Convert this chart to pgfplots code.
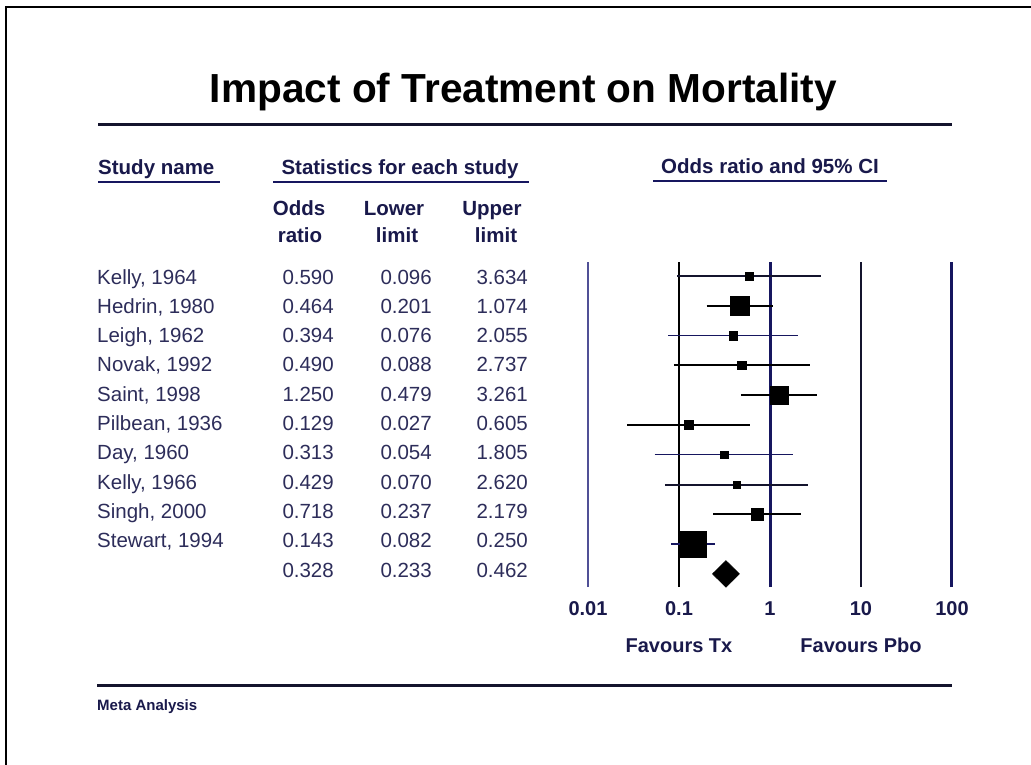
\documentclass[border=0pt]{standalone}
\usepackage{pgfplots}
\pgfplotsset{compat=1.18}
\usepackage{fontspec}
\setmainfont{Liberation Sans}
\definecolor{navy}{RGB}{22,22,95}
\definecolor{hdr}{RGB}{25,25,75}
\definecolor{txt}{RGB}{45,45,90}
\definecolor{lnavy}{RGB}{80,80,150}
\definecolor{rule}{RGB}{20,20,45}

\begin{document}
\begin{tikzpicture}[x=1pt,y=-1pt]
\useasboundingbox (0,0) rectangle (1031,765);
\fill[white] (0,0) rectangle (1031,765);
\draw[line width=2pt, black] (6,766) -- (6,7) -- (1032,7);

% title
\node[anchor=base, inner sep=0pt, font=\fontsize{40.6}{48}\selectfont\bfseries] at (523.5,103) {Impact of Treatment on Mortality};
\draw[line width=3pt, rule] (98,125) -- (952,125);

% headers
\begin{scope}[every node/.style={inner sep=0pt, text=hdr, font=\fontsize{20.5}{24}\selectfont\bfseries}]
\node[anchor=base west] at (98,175) {Study name};
\node[anchor=base] at (400,175) {Statistics for each study};
\node[anchor=base] at (770,174) {Odds ratio and 95\% CI};
\node[anchor=base] at (299,215) {Odds};
\node[anchor=base] at (300,242) {ratio};
\node[anchor=base] at (394,215) {Lower};
\node[anchor=base] at (397,242) {limit};
\node[anchor=base] at (492,215) {Upper};
\node[anchor=base] at (496,242) {limit};
\end{scope}
\draw[line width=2pt, navy] (98,182) -- (220,182);
\draw[line width=2pt, navy] (273,182) -- (529,182);
\draw[line width=2pt, navy] (653,181) -- (887,181);

% study rows (text)
\begin{scope}[every node/.style={inner sep=0pt, text=txt, font=\fontsize{20.5}{24}\selectfont}]
\foreach \n/\o/\l/\u [count=\i] in {
  {Kelly, 1964}/0.590/0.096/3.634,
  {Hedrin, 1980}/0.464/0.201/1.074,
  {Leigh, 1962}/0.394/0.076/2.055,
  {Novak, 1992}/0.490/0.088/2.737,
  {Saint, 1998}/1.250/0.479/3.261,
  {Pilbean, 1936}/0.129/0.027/0.605,
  {Day, 1960}/0.313/0.054/1.805,
  {Kelly, 1966}/0.429/0.070/2.620,
  {Singh, 2000}/0.718/0.237/2.179,
  {Stewart, 1994}/0.143/0.082/0.250,
  {}/0.328/0.233/0.462}
{
  \pgfmathsetmacro{\yy}{284+29.3*(\i-1)}
  \node[anchor=base west] at (97,\yy) {\n};
  \node[anchor=base east] at (334,\yy) {\o};
  \node[anchor=base east] at (432,\yy) {\l};
  \node[anchor=base east] at (528,\yy) {\u};
}
\end{scope}

% footer
\draw[line width=3pt, rule] (97,685) -- (952,685);
\node[anchor=base west, inner sep=0pt, text=hdr, font=\fontsize{15}{18}\selectfont\bfseries] at (97,710) {Meta Analysis};

% forest plot
\begin{axis}[
  at={(588pt,-587pt)}, anchor=south west,
  scale only axis, width=364pt, height=325pt,
  xmode=log, xmin=0.01, xmax=100, ymin=0.56, ymax=11.47,
  axis line style={draw=none},
  xtick={0.01,0.1,1,10,100},
  xticklabels={0.01,0.1,1,10,100},
  xminorticks=false, yminorticks=false,
  minor xtick={}, 
  major tick length=0pt, minor tick length=0pt,
  tick style={draw=none},
  ytick=\empty,
  xticklabel style={anchor=base, inner sep=0pt, yshift=-28pt, text=hdr, font=\fontsize{20}{24}\selectfont\bfseries},
  clip=false,
]
% reference lines
\addplot[lnavy, line width=1.3pt] coordinates {(0.01,0.56) (0.01,11.47)};
\addplot[black, line width=2pt] coordinates {(0.1,0.56) (0.1,11.47)};
\addplot[navy, line width=3pt] coordinates {(1,0.56) (1,11.47)};
\addplot[rule, line width=2.5pt] coordinates {(10,0.56) (10,11.47)};
\addplot[navy, line width=3pt] coordinates {(100,0.56) (100,11.47)};

% confidence intervals
\addplot[rule, line width=2pt] coordinates {(0.096,11) (3.634,11)};
\addplot[black, line width=2pt] coordinates {(0.201,10) (1.074,10)};
\addplot[navy, line width=1.4pt] coordinates {(0.076,9) (2.055,9)};
\addplot[black, line width=2pt] coordinates {(0.088,8) (2.737,8)};
\addplot[black, line width=2pt] coordinates {(0.479,7) (3.261,7)};
\addplot[black, line width=2pt] coordinates {(0.027,6) (0.605,6)};
\addplot[navy, line width=1.4pt] coordinates {(0.054,5) (1.805,5)};
\addplot[rule, line width=2pt] coordinates {(0.070,4) (2.620,4)};
\addplot[black, line width=2pt] coordinates {(0.237,3) (2.179,3)};
\addplot[navy, line width=1.4pt] coordinates {(0.082,2) (0.250,2)};

% point estimates (square size ~ weight)
\addplot[only marks, mark=square*, mark size=3.7pt, black] coordinates {(0.590,11)};
\addplot[only marks, mark=square*, mark size=9.2pt, black] coordinates {(0.464,10)};
\addplot[only marks, mark=square*, mark size=4.3pt, black] coordinates {(0.394,9)};
\addplot[only marks, mark=square*, mark size=4.2pt, black] coordinates {(0.490,8)};
\addplot[only marks, mark=square*, mark size=9.0pt, black] coordinates {(1.250,7)};
\addplot[only marks, mark=square*, mark size=4.5pt, black] coordinates {(0.129,6)};
\addplot[only marks, mark=square*, mark size=3.8pt, black] coordinates {(0.313,5)};
\addplot[only marks, mark=square*, mark size=3.8pt, black] coordinates {(0.429,4)};
\addplot[only marks, mark=square*, mark size=6.2pt, black] coordinates {(0.718,3)};
\addplot[only marks, mark=square*, mark size=13.3pt, black] coordinates {(0.143,2)};

% pooled estimate
\addplot[fill=black, draw=black, line width=0.5pt] coordinates {(0.233,1) (0.328,1.447) (0.462,1) (0.328,0.553) (0.233,1)};

\node[anchor=base, inner sep=0pt, text=hdr, font=\fontsize{20}{24}\selectfont\bfseries] at (axis cs:0.1,0.56) [yshift=-65pt] {Favours Tx};
\node[anchor=base, inner sep=0pt, text=hdr, font=\fontsize{20}{24}\selectfont\bfseries] at (axis cs:10,0.56) [yshift=-65pt] {Favours Pbo};
\end{axis}
\end{tikzpicture}
\end{document}
